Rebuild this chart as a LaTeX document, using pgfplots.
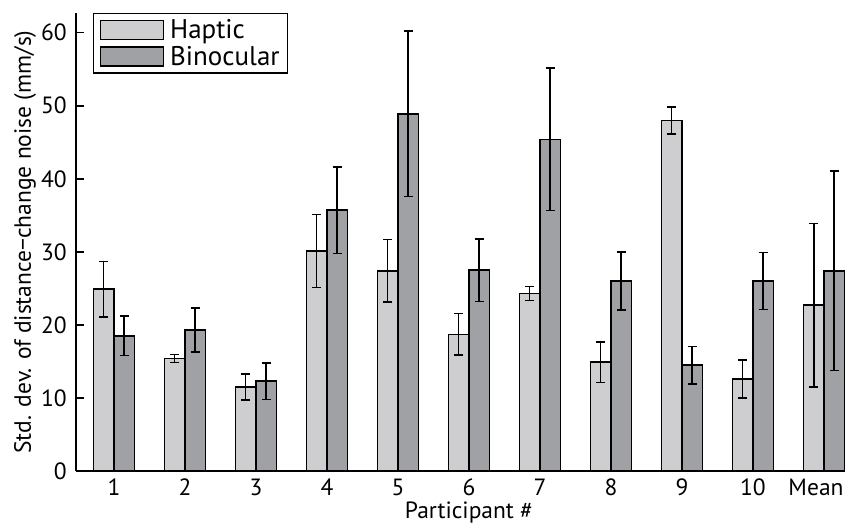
\documentclass[border=0pt]{standalone}
\usepackage{fontspec}
\setmainfont{PT Sans}
\usepackage{pgfplots}
\pgfplotsset{compat=1.18}
\usepackage{pgfplotstable}
\definecolor{hap}{RGB}{206,206,209}
\definecolor{bin}{RGB}{160,161,165}
\pgfplotsset{bigrect legend/.style={legend image code/.code={\draw[##1, line width=1.5pt] (0pt,-9.5pt) rectangle (63pt,9.5pt);}}}

\pgfplotstableread{
x  H     He    B     Be
0  24.9  3.8   18.5  2.7
1  15.4  0.55  19.3  3.0
2  11.5  1.8   12.3  2.5
3  30.1  5.0   35.7  5.9
4  27.4  4.3   48.9  11.3
5  18.7  2.85  27.5  4.3
6  24.3  0.95  45.4  9.75
7  14.9  2.8   26.0  4.0
8  48.0  1.85  14.5  2.55
9  12.6  2.6   26.0  3.9
10 22.7  11.2  27.4  13.65
}\datatable

\begin{document}
\begin{tikzpicture}
\begin{axis}[
  scale only axis, width=769pt, height=458pt,
  xmin=-0.535, xmax=10.296, ymin=0, ymax=62.7,
  axis lines*=left,
  axis line style={line width=1.5pt, black},
  ybar=0pt, bar width=0.29,
  xtick={0,1,2,3,4,5,6,7,8,9,10},
  xticklabels={1,2,3,4,5,6,7,8,9,10,\hspace*{-16pt}Mean},
  x tick style={draw=none},
  ytick={0,10,20,30,40,50,60},
  tick align=inside, major tick length=8pt,
  y tick style={line width=1.5pt, black},
  /pgf/number format/assume math mode=true,
  font=\fontsize{23.5}{27}\selectfont,
  xticklabel style={anchor=base, inner sep=0pt, yshift=-24.5pt},
  yticklabel style={anchor=east, inner sep=0pt, xshift=-9pt},
  ylabel={Std. dev. of distance−change noise (mm/s)},
  every axis y label/.style={at={(axis description cs:-0.0663,0.5)}, rotate=90, anchor=center},
  xlabel={Participant \#},
  every axis x label/.style={at={(axis cs:5,0)}, anchor=base, yshift=-47pt},
  legend style={at={(0.0221,1)}, anchor=north west, draw=black, line width=1.4pt,
    inner xsep=6pt, inner ysep=6pt, row sep=6pt,
    nodes={inner ysep=0pt},
    font=\fontsize{27}{29}\selectfont,
    /tikz/every odd column/.append style={column sep=4pt}},
  legend cell align=left,
  clip=false,
]
\addplot[fill=hap, draw=black, line width=1.5pt, bigrect legend,
  error bars/.cd, y dir=both, y explicit,
  error bar style={line width=1.6pt, black},
  error mark options={line width=1.6pt, black, mark size=4.6pt, rotate=90}]
  table[x=x, y=H, y error=He]{\datatable};
\addplot[fill=bin, draw=black, line width=1.5pt, bigrect legend,
  error bars/.cd, y dir=both, y explicit,
  error bar style={line width=1.6pt, black},
  error mark options={line width=1.6pt, black, mark size=4.6pt, rotate=90}]
  table[x=x, y=B, y error=Be]{\datatable};
\legend{Haptic, Binocular}
\end{axis}
\pgfresetboundingbox
\useasboundingbox (-76pt,-53pt) rectangle (769pt,471pt);
\end{tikzpicture}
\end{document}
